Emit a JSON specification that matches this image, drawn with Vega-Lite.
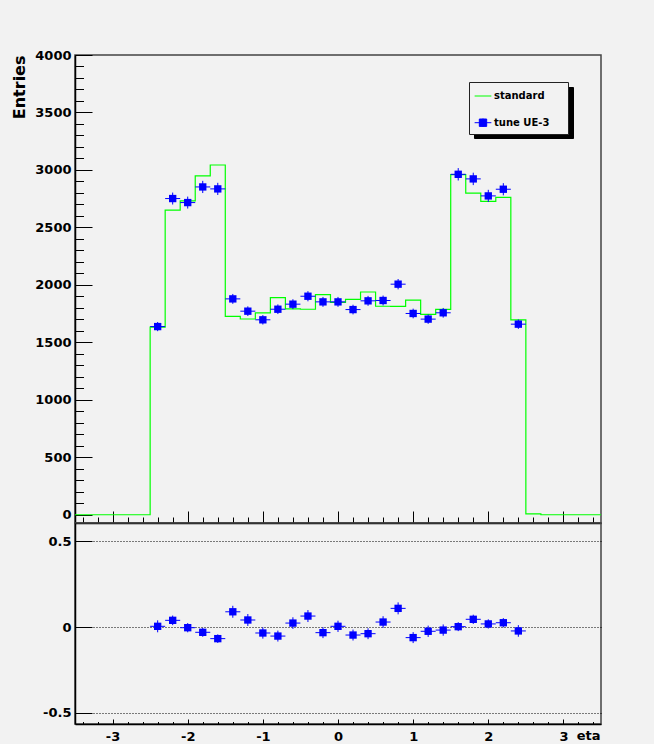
{
  "$schema": "https://vega.github.io/schema/vega-lite/v6.json",
  "autosize": {"type": "pad"},
  "padding": {"left": 10, "top": 48, "right": 51, "bottom": 10},
  "background": "#f2f2f2",
  "spacing": 0,
  "bounds": "flush",
  "config": {
    "view": {"stroke": "#444444", "strokeWidth": 1.5},
    "axis": {
      "labelFont": "DejaVu Sans", "labelFontWeight": "bold", "labelFontSize": 13, "labelColor": "#000000",
      "titleFont": "DejaVu Sans", "titleFontWeight": "bold", "titleColor": "#000000",
      "domainColor": "#000000", "domainWidth": 1.5, "tickColor": "#000000", "tickWidth": 1,
      "grid": false, "zindex": 1
    }
  },
  "datasets": {
    "hist": [
      {"lo": -3.5, "standard": 0}, {"lo": -3.3, "standard": 0}, {"lo": -3.1, "standard": 0},
      {"lo": -2.9, "standard": 0}, {"lo": -2.7, "standard": 0}, {"lo": -2.5, "standard": 1632},
      {"lo": -2.3, "standard": 2650}, {"lo": -2.1, "standard": 2730}, {"lo": -1.9, "standard": 2948},
      {"lo": -1.7, "standard": 3043}, {"lo": -1.5, "standard": 1726}, {"lo": -1.3, "standard": 1703},
      {"lo": -1.1, "standard": 1757}, {"lo": -0.9, "standard": 1889}, {"lo": -0.7, "standard": 1791},
      {"lo": -0.5, "standard": 1788}, {"lo": -0.3, "standard": 1915}, {"lo": -0.1, "standard": 1847},
      {"lo": 0.1, "standard": 1873}, {"lo": 0.3, "standard": 1938}, {"lo": 0.5, "standard": 1814},
      {"lo": 0.7, "standard": 1812}, {"lo": 0.9, "standard": 1867}, {"lo": 1.1, "standard": 1744},
      {"lo": 1.3, "standard": 1787}, {"lo": 1.5, "standard": 2959}, {"lo": 1.7, "standard": 2798},
      {"lo": 1.9, "standard": 2726}, {"lo": 2.1, "standard": 2762}, {"lo": 2.3, "standard": 1695},
      {"lo": 2.5, "standard": 8}, {"lo": 2.7, "standard": 0}, {"lo": 2.9, "standard": 0},
      {"lo": 3.1, "standard": 0}, {"lo": 3.3, "standard": 0}, {"lo": 3.5, "standard": 0}
    ],
    "bins": [
      {"eta": -2.4, "lo": -2.5, "hi": -2.3, "tune": 1637, "terr": 40, "ratio": 0.004, "rerr": 0.035},
      {"eta": -2.2, "lo": -2.3, "hi": -2.1, "tune": 2751, "terr": 52, "ratio": 0.039, "rerr": 0.028},
      {"eta": -2.0, "lo": -2.1, "hi": -1.9, "tune": 2716, "terr": 52, "ratio": -0.004, "rerr": 0.027},
      {"eta": -1.8, "lo": -1.9, "hi": -1.7, "tune": 2852, "terr": 53, "ratio": -0.031, "rerr": 0.026},
      {"eta": -1.6, "lo": -1.7, "hi": -1.5, "tune": 2835, "terr": 53, "ratio": -0.068, "rerr": 0.025},
      {"eta": -1.4, "lo": -1.5, "hi": -1.3, "tune": 1878, "terr": 43, "ratio": 0.089, "rerr": 0.035},
      {"eta": -1.2, "lo": -1.3, "hi": -1.1, "tune": 1771, "terr": 42, "ratio": 0.041, "rerr": 0.035},
      {"eta": -1.0, "lo": -1.1, "hi": -0.9, "tune": 1696, "terr": 41, "ratio": -0.035, "rerr": 0.033},
      {"eta": -0.8, "lo": -0.9, "hi": -0.7, "tune": 1788, "terr": 42, "ratio": -0.053, "rerr": 0.032},
      {"eta": -0.6, "lo": -0.7, "hi": -0.5, "tune": 1832, "terr": 43, "ratio": 0.023, "rerr": 0.034},
      {"eta": -0.4, "lo": -0.5, "hi": -0.3, "tune": 1901, "terr": 44, "ratio": 0.064, "rerr": 0.035},
      {"eta": -0.2, "lo": -0.3, "hi": -0.1, "tune": 1852, "terr": 43, "ratio": -0.033, "rerr": 0.032},
      {"eta": 0.0, "lo": -0.1, "hi": 0.1, "tune": 1852, "terr": 43, "ratio": 0.004, "rerr": 0.033},
      {"eta": 0.2, "lo": 0.1, "hi": 0.3, "tune": 1785, "terr": 42, "ratio": -0.047, "rerr": 0.032},
      {"eta": 0.4, "lo": 0.3, "hi": 0.5, "tune": 1861, "terr": 43, "ratio": -0.039, "rerr": 0.032},
      {"eta": 0.6, "lo": 0.5, "hi": 0.7, "tune": 1864, "terr": 43, "ratio": 0.029, "rerr": 0.034},
      {"eta": 0.8, "lo": 0.7, "hi": 0.9, "tune": 2006, "terr": 45, "ratio": 0.109, "rerr": 0.035},
      {"eta": 1.0, "lo": 0.9, "hi": 1.1, "tune": 1751, "terr": 42, "ratio": -0.062, "rerr": 0.032},
      {"eta": 1.2, "lo": 1.1, "hi": 1.3, "tune": 1702, "terr": 41, "ratio": -0.025, "rerr": 0.033},
      {"eta": 1.4, "lo": 1.3, "hi": 1.5, "tune": 1757, "terr": 42, "ratio": -0.018, "rerr": 0.033},
      {"eta": 1.6, "lo": 1.5, "hi": 1.7, "tune": 2962, "terr": 54, "ratio": 0.002, "rerr": 0.026},
      {"eta": 1.8, "lo": 1.7, "hi": 1.9, "tune": 2922, "terr": 54, "ratio": 0.045, "rerr": 0.027},
      {"eta": 2.0, "lo": 1.9, "hi": 2.1, "tune": 2774, "terr": 53, "ratio": 0.018, "rerr": 0.027},
      {"eta": 2.2, "lo": 2.1, "hi": 2.3, "tune": 2832, "terr": 53, "ratio": 0.025, "rerr": 0.027},
      {"eta": 2.4, "lo": 2.3, "hi": 2.5, "tune": 1658, "terr": 41, "ratio": -0.023, "rerr": 0.034}
    ]
  },
  "vconcat": [
    {
      "width": 526,
      "height": 468,
      "resolve": {"axis": {"x": "independent", "y": "independent"}},
      "layer": [
        {
          "data": {"name": "hist"},
          "mark": {"type": "line", "interpolate": "step-after", "strokeWidth": 1.2},
          "encoding": {
            "x": {
              "field": "lo", "type": "quantitative",
              "scale": {"domain": [-3.5, 3.5], "nice": false, "zero": false},
              "axis": {"orient": "bottom", "values": [-3, -2, -1, 0, 1, 2, 3], "tickSize": -12, "labels": false, "title": null}
            },
            "y": {
              "field": "standard", "type": "quantitative",
              "scale": {"domain": [-72, 4000], "nice": false, "zero": false},
              "axis": {
                "orient": "left", "values": [0, 500, 1000, 1500, 2000, 2500, 3000, 3500, 4000],
                "format": "d", "tickSize": -17, "labelPadding": 21,
                "title": "Entries", "titleFontSize": 16, "titleAnchor": "end", "titleAlign": "right",
                "titleAngle": 270, "titleBaseline": "alphabetic", "titleX": -51, "titleY": 0
              }
            },
            "color": {
              "datum": "standard",
              "scale": {"domain": ["standard", "tune UE-3"], "range": ["#00ff00", "#0000ff"]},
              "legend": {
                "orient": "none", "legendX": 394, "legendY": 27,
                "title": "\u00a0", "titleOrient": "right", "titleFontSize": 1, "titlePadding": 14,
                "fillColor": "#f2f2f2", "strokeColor": "#222222",
                "padding": 5, "rowPadding": 12.7, "symbolSize": 280, "symbolStrokeWidth": 1, "labelOffset": 2,
                "labelFont": "DejaVu Sans", "labelFontWeight": "bold", "labelFontSize": 10, "labelColor": "#000000",
                "zindex": 2,
                "encode": {
                  "symbols": {
                    "update": {
                      "shape": {"signal": "datum.value === 'standard' ? 'stroke' : 'M-1,0H1M0,-0.5V0.5M-0.44,-0.44H0.44V0.44H-0.44Z'"},
                      "fill": {"signal": "datum.value === 'standard' ? 'transparent' : '#0000ff'"},
                      "stroke": {"signal": "datum.value === 'standard' ? '#00ff00' : '#0000ff'"},
                      "size": {"value": 280},
                      "strokeWidth": {"value": 1},
                      "opacity": {"value": 1}
                    }
                  }
                }
              }
            }
          }
        },
        {
          "data": {"name": "bins"},
          "mark": {"type": "rule", "color": "#0000ff", "strokeWidth": 1},
          "encoding": {
            "x": {"field": "lo", "type": "quantitative", "axis": null},
            "x2": {"field": "hi"},
            "y": {"field": "tune", "type": "quantitative", "axis": null}
          }
        },
        {
          "data": {"name": "bins"},
          "mark": {"type": "errorbar", "color": "#0000ff", "thickness": 1},
          "encoding": {
            "x": {"field": "eta", "type": "quantitative", "axis": null},
            "y": {"field": "tune", "type": "quantitative", "axis": null},
            "yError": {"field": "terr"}
          }
        },
        {
          "data": {"name": "bins"},
          "mark": {"type": "point", "shape": "square", "filled": true, "size": 54, "opacity": 1},
          "encoding": {
            "x": {
              "field": "eta", "type": "quantitative",
              "axis": {"orient": "bottom", "values": [-3.4, -3.2, -3, -2.8, -2.6, -2.4, -2.2, -2, -1.8, -1.6, -1.4, -1.2, -1, -0.8, -0.6, -0.4, -0.2, 0, 0.2, 0.4, 0.6, 0.8, 1, 1.2, 1.4, 1.6, 1.8, 2, 2.2, 2.4, 2.6, 2.8, 3, 3.2, 3.4], "tickSize": -6, "labels": false, "domain": false, "title": null}
            },
            "y": {
              "field": "tune", "type": "quantitative",
              "axis": {"orient": "left", "values": [0, 100, 200, 300, 400, 500, 600, 700, 800, 900, 1000, 1100, 1200, 1300, 1400, 1500, 1600, 1700, 1800, 1900, 2000, 2100, 2200, 2300, 2400, 2500, 2600, 2700, 2800, 2900, 3000, 3100, 3200, 3300, 3400, 3500, 3600, 3700, 3800, 3900, 4000], "tickSize": -8.5, "labels": false, "domain": false, "title": null}
            },
            "color": {"datum": "tune UE-3"}
          }
        },
        {
          "data": {"values": [{"k": 1}]},
          "mark": {"type": "point", "opacity": 0},
          "encoding": {
            "shape": {
              "datum": "s1",
              "scale": {"domain": ["s1", "s2"], "range": ["square", "square"]},
              "legend": {
                "orient": "none", "legendX": 399, "legendY": 32,
                "title": "\u00a0", "titleOrient": "right", "titleFontSize": 1, "titlePadding": 72,
                "fillColor": "#000000", "strokeColor": "#000000",
                "padding": 3, "rowPadding": 3, "symbolSize": 280, "symbolStrokeWidth": 1, "labelOffset": 3,
                "labelFontSize": 10, "labelColor": "#000000", "labelExpr": "''",
                "symbolFillColor": "#000000", "symbolStrokeColor": "#000000",
                "zindex": 1,
                "encode": {
                  "symbols": {
                    "update": {
                      "size": {"value": 280},
                      "strokeWidth": {"value": 1}
                    }
                  }
                }
              }
            }
          }
        }
      ]
    },
    {
      "width": 526,
      "height": 201,
      "resolve": {"axis": {"x": "independent", "y": "independent"}},
      "layer": [
        {
          "data": {"name": "bins"},
          "mark": {"type": "rule", "color": "#0000ff", "strokeWidth": 1},
          "encoding": {
            "x": {
              "field": "lo", "type": "quantitative",
              "scale": {"domain": [-3.5, 3.5], "nice": false, "zero": false},
              "axis": {
                "orient": "bottom", "values": [-3, -2, -1, 0, 1, 2, 3], "tickSize": -5, "labelPadding": 11,
                "labelExpr": "datum.value < 0 ? '-' + abs(datum.value) : '' + datum.value",
                "title": "eta", "titleFontSize": 13, "titleAnchor": "end", "titleAlign": "right",
                "titleBaseline": "alphabetic", "titleX": 525, "titleY": 15
              }
            },
            "x2": {"field": "hi"},
            "y": {
              "field": "ratio", "type": "quantitative",
              "scale": {"domain": [-0.567, 0.608], "nice": false, "zero": false},
              "axis": {
                "orient": "left", "values": [-0.5, 0, 0.5], "tickSize": -17, "labelPadding": 21,
                "labelExpr": "datum.value < 0 ? '-' + abs(datum.value) : '' + datum.value",
                "title": null, "grid": true, "gridDash": [1, 2], "gridColor": "#000000", "gridWidth": 1, "gridOpacity": 1
              }
            }
          }
        },
        {
          "data": {"name": "bins"},
          "mark": {"type": "errorbar", "color": "#0000ff", "thickness": 1},
          "encoding": {
            "x": {"field": "eta", "type": "quantitative", "axis": null},
            "y": {"field": "ratio", "type": "quantitative", "axis": null},
            "yError": {"field": "rerr"}
          }
        },
        {
          "data": {"name": "bins"},
          "mark": {"type": "point", "shape": "square", "filled": true, "size": 54, "opacity": 1, "color": "#0000ff"},
          "encoding": {
            "x": {
              "field": "eta", "type": "quantitative",
              "axis": {"orient": "bottom", "values": [-3.4, -3.2, -3, -2.8, -2.6, -2.4, -2.2, -2, -1.8, -1.6, -1.4, -1.2, -1, -0.8, -0.6, -0.4, -0.2, 0, 0.2, 0.4, 0.6, 0.8, 1, 1.2, 1.4, 1.6, 1.8, 2, 2.2, 2.4, 2.6, 2.8, 3, 3.2, 3.4], "tickSize": -2.5, "labels": false, "domain": false, "title": null}
            },
            "y": {"field": "ratio", "type": "quantitative", "axis": null}
          }
        }
      ]
    }
  ]
}
